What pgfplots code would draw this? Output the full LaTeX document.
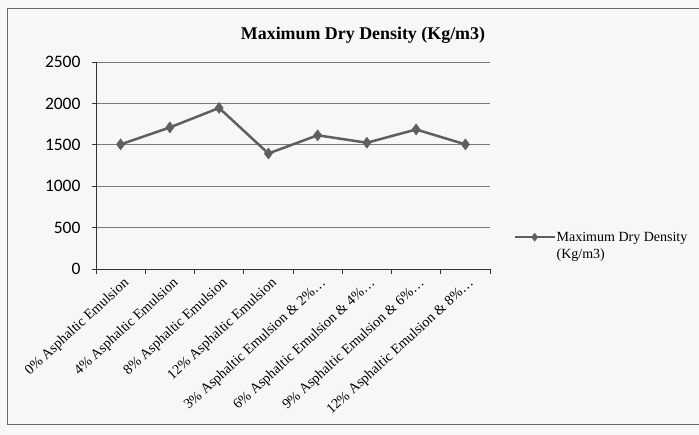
\documentclass[border=0pt]{standalone}
\usepackage{pgfplots}
\pgfplotsset{compat=1.18}
\usepackage{fontspec}
\setmainfont{Liberation Serif}
\newfontfamily\calibri{Carlito}
\definecolor{linegray}{HTML}{5F5F5F}
\definecolor{gridgray}{HTML}{7A7A7A}
\begin{document}
\begin{tikzpicture}[x=1bp,y=1bp]
\useasboundingbox (0,0) rectangle (699,-435);
\fill[black!3] (0,0) rectangle (699,-435);
\draw[gray!80!black, line width=0.8bp] (7,-8) -- (699,-8) (7,-8) -- (7,-424) -- (699,-424);
\node[font=\bfseries\fontsize{17.9bp}{20bp}\selectfont] at (363,-35) {Maximum Dry Density (Kg/m3)};
\begin{axis}[
  at={(96bp,-269bp)}, anchor=south west,
  scale only axis, width=394bp, height=207bp,
  xmin=-0.5, xmax=7.5, ymin=0, ymax=2500,
  ytick={0,500,...,2500},
  xtick={0,...,7},
  xticklabels={0\% Asphaltic Emulsion,4\% Asphaltic Emulsion,8\% Asphaltic Emulsion,12\% Asphaltic Emulsion,3\% Asphaltic Emulsion \& 2\%…,6\% Asphaltic Emulsion \& 4\%…,9\% Asphaltic Emulsion \& 6\%…,12\% Asphaltic Emulsion \& 8\%…},
  minor xtick={-0.5,0.5,...,7.5},
  axis x line*=bottom, axis y line*=left,
  axis line style={-, draw=black!80, line width=0.9bp},
  ymajorgrids, grid style={gridgray, line width=0.9bp},
  major x tick style={draw=none},
  tick align=outside, major tick length=4bp, minor tick length=5bp,
  tick style={black!80, line width=0.8bp},
  xticklabel style={rotate=42.5, anchor=north east, font=\fontsize{14.2bp}{16bp}\selectfont, inner sep=1bp, xshift=0bp, yshift=-3bp},
  yticklabel style={font=\calibri\fontsize{17.5bp}{18bp}\selectfont, xshift=-8bp},
  /pgf/number format/assume math mode=true,
  scaled y ticks=false, /pgf/number format/1000 sep={},
  clip=false,
  legend style={at={(1.052,0.11)}, anchor=west, draw=none, fill=none, font=\fontsize{14bp}{16.5bp}\selectfont, nodes={align=left, inner sep=1bp}, column sep=0pt},
  legend image code/.code={\draw[mark repeat=2,mark phase=2,#1, line width=2bp, mark size=4bp] plot coordinates {(0bp,9bp) (20bp,9bp) (40bp,9bp)};},
]
\addplot[linegray, line width=2.5bp, mark=diamond*, mark size=5.5bp, mark options={fill=linegray, draw=linegray, line width=0.5bp}] coordinates {
(0,1505) (1,1710) (2,1945) (3,1395) (4,1615) (5,1525) (6,1685) (7,1505)};
\addlegendentry{Maximum Dry Density\\(Kg/m3)}
\end{axis}
\end{tikzpicture}
\end{document}
